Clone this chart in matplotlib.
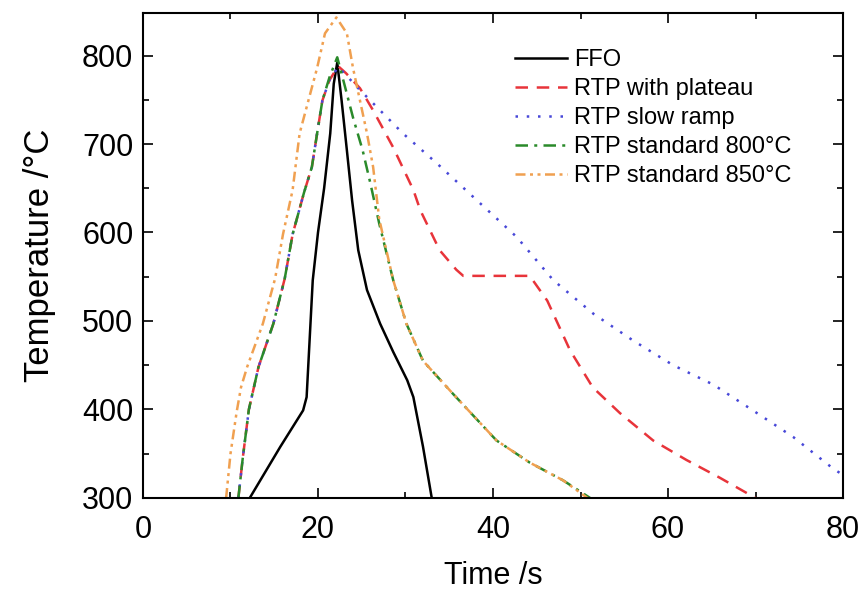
import matplotlib
matplotlib.use("Agg")
import matplotlib.pyplot as plt
from matplotlib.ticker import MultipleLocator

plt.rcParams['font.family'] = ['Liberation Sans', 'DejaVu Sans']

# FFO
ffo_t = [12.2, 15.7, 18.3, 18.7, 19.4, 20.0, 20.7, 21.4, 21.8, 22.2, 22.7, 23.3, 23.9, 24.6, 25.6, 27.1, 28.6, 30.2, 30.9, 32.0, 33.0]
ffo_T = [300, 358, 399, 414, 546, 600, 650, 712, 768, 792, 749, 693, 636, 580, 535, 497, 465, 433, 414, 358, 300]

# RTP with plateau
plat_t = [10.9, 11.4, 12.1, 13.2, 14.9, 16.2, 17.1, 18.4, 19.3, 19.9, 20.5, 21.3, 22.3, 23.2, 24.8, 26.3, 28.6, 30.9, 31.7, 33.9, 35.8, 36.6, 44.2, 46.2, 48.8, 51.4, 54.5, 58.3, 62.1, 65.9, 70.0]
plat_T = [300, 345, 400, 448, 497, 548, 598, 645, 674, 712, 749, 772, 788, 780, 763, 738, 696, 648, 625, 580, 558, 551, 551, 523, 467, 425, 396, 365, 343, 323, 300]

# RTP slow ramp
slow_t = [10.9, 11.4, 12.1, 13.2, 14.9, 16.2, 17.1, 18.4, 19.3, 19.9, 20.5, 21.3, 22.3, 23.2, 24.5, 27.1, 29.7, 33.6, 38.2, 42.7, 46.9, 51.5, 56.0, 60.6, 65.2, 69.7, 74.3, 78.9, 80.0]
slow_T = [300, 345, 400, 448, 497, 548, 598, 645, 674, 712, 749, 772, 787, 778, 764, 738, 712, 678, 636, 595, 546, 508, 478, 450, 428, 399, 369, 333, 326]

# RTP standard 800 °C
s800_t = [10.9, 11.4, 12.1, 13.2, 14.9, 16.2, 17.1, 18.4, 19.3, 19.9, 20.5, 21.3, 22.2, 23.0, 24.0, 25.1, 26.0, 27.0, 28.6, 30.1, 32.0, 35.4, 40.4, 44.2, 48.0, 51.1]
s800_T = [300, 345, 400, 448, 497, 548, 598, 645, 674, 712, 749, 775, 798, 768, 730, 693, 655, 610, 546, 497, 455, 418, 365, 340, 320, 300]

# RTP standard 850 °C
s850_t = [9.5, 10.0, 10.7, 11.2, 11.9, 13.7, 15.1, 16.0, 17.1, 17.9, 18.9, 19.9, 20.8, 22.1, 23.3, 24.0, 24.8, 25.6, 26.3, 27.0, 28.6, 30.1, 32.0, 35.4, 40.4, 44.2, 48.0, 50.8]
s850_T = [300, 350, 397, 425, 448, 497, 548, 598, 648, 712, 749, 786, 825, 843, 825, 786, 749, 712, 674, 615, 546, 497, 455, 418, 365, 340, 320, 300]

labels = ["FFO", "RTP with plateau", "RTP slow ramp", "RTP standard 800°C", "RTP standard 850°C"]

fig = plt.figure(figsize=(8.64, 5.92), dpi=100)
ax = fig.add_axes([0.1655, 0.1588, 0.8102, 0.8192])

lw = 1.8
ax.plot(ffo_t, ffo_T, color='black', lw=lw, ls='-', label=labels[0])
ax.plot(plat_t, plat_T, color='#e8343a', lw=lw, ls=(0, (5, 3.5)), label=labels[1])
ax.plot(slow_t, slow_T, color='#4848d8', lw=lw, ls=(0, (1, 3.5)), label=labels[2])
ax.plot(s800_t, s800_T, color='#2a8a2a', lw=lw, ls=(0, (5, 2.5, 1.2, 2.5)), label=labels[3])
ax.plot(s850_t, s850_T, color='#f0a050', lw=lw, ls=(0, (4, 1.8, 1.2, 1.8, 1.2, 1.8)), label=labels[4])

ax.set_xlim(0, 80)
ax.set_ylim(300, 848)
ax.xaxis.set_major_locator(MultipleLocator(20))
ax.xaxis.set_minor_locator(MultipleLocator(10))
ax.yaxis.set_major_locator(MultipleLocator(100))
ax.yaxis.set_minor_locator(MultipleLocator(50))
ax.tick_params(which='both', direction='in', top=True, right=True, width=1.2)
ax.tick_params(which='major', length=7, labelsize=22)
ax.tick_params(axis='x', which='major', pad=12)
ax.tick_params(axis='y', which='major', pad=7)
ax.tick_params(which='minor', length=4)
for s in ax.spines.values():
    s.set_linewidth(1.5)

ax.set_xlabel("Time /s", fontsize=22, labelpad=12)
ax.set_ylabel("Temperature /°C", fontsize=25, labelpad=19)

leg = ax.legend(loc='upper left', bbox_to_anchor=(0.508, 0.96), frameon=False, fontsize=17,
                handlelength=2.2, handletextpad=0.3, labelspacing=0.3, borderpad=0.2)

fig.savefig("out.png", dpi=100)
